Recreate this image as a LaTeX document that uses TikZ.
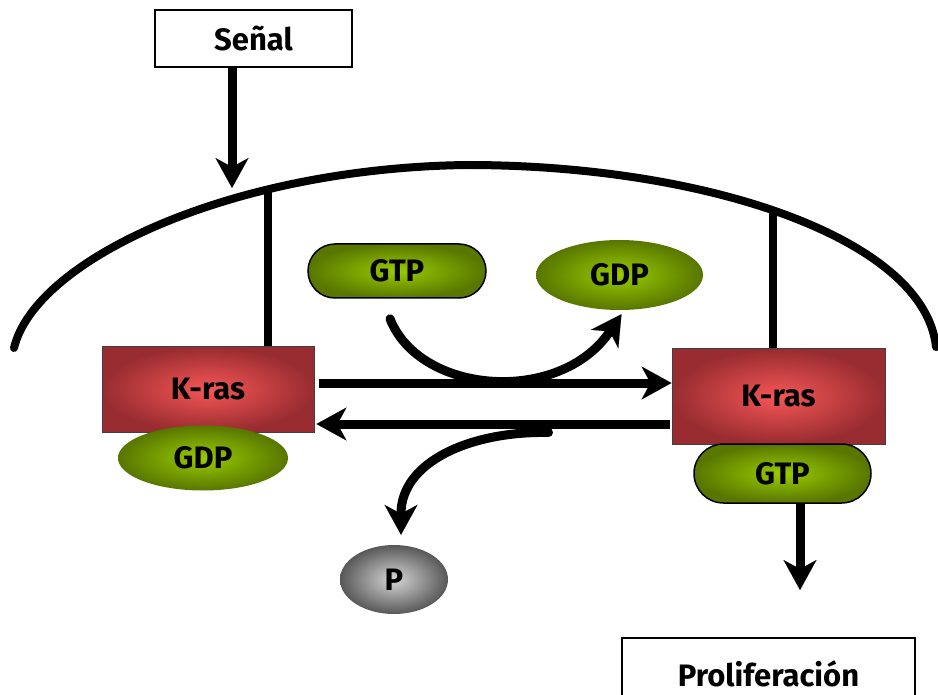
\documentclass[tikz,border=0pt]{standalone}
\usepackage{fontspec}
\setmainfont{Fira Sans}
\usetikzlibrary{arrows.meta,shapes.geometric,shapes.misc}

\definecolor{krasin}{RGB}{246,86,86}
\definecolor{krasout}{RGB}{152,44,48}
\definecolor{nucin}{RGB}{152,204,0}
\definecolor{nucout}{RGB}{88,118,0}
\definecolor{phosin}{RGB}{214,214,214}
\definecolor{phosout}{RGB}{88,88,88}

\tikzset{
    bigtext/.style={font=\fontsize{31}{36}\selectfont\bfseries, inner sep=0pt},
    whitebox/.style={bigtext, draw, line width=2pt, fill=white},
    krasbox/.style={bigtext, draw=black!75, line width=1pt, inner color=krasin, outer color=krasout},
    gtppill/.style={bigtext, rounded rectangle, draw, line width=1.5pt, inner color=nucin, outer color=nucout},
    gdpblob/.style={bigtext, ellipse, inner color=nucin, outer color=nucout},
    pblob/.style={bigtext, ellipse, inner color=phosin, outer color=phosout},
    fat arrow/.style={line width=9pt, -{Stealth[length=30pt, width=33pt, inset=9pt, line width=0.1pt]}},
    stalk/.style={line width=8pt}
}

\begin{document}
\begin{tikzpicture}[x=1pt, y=-1pt]
    \useasboundingbox (0,0) rectangle (938,695);
    \clip (0,0) rectangle (938,695);

    % membrane
    \draw[line width=8pt, line cap=round] (14,348)
        .. controls (35,260) and (230,168) .. (467,165)
        .. controls (710,165) and (925,240) .. (936,347);
    \coordinate (memtop) at (232,188);
    \coordinate (anchorL) at (268,190);
    \coordinate (anchorR) at (773,212);

    % boxes
    \node[whitebox, minimum width=197pt, minimum height=57pt] (senal) at (253.5,38.5) {Señal};
    \node[whitebox, minimum width=293pt, minimum height=72pt] (prolif) at (768.5,674) {Proliferación};

    \node[krasbox, minimum width=212pt, minimum height=85pt] (krasL) at (208,389.5) {K-ras};
    \node[gdpblob, minimum width=170pt, minimum height=65pt] (gdpL) at (203,458) {GDP};
    \node[krasbox, minimum width=213pt, minimum height=95pt] (krasR) at (778.5,396.5) {K-ras};
    \node[gtppill, minimum width=177pt, minimum height=59pt] (gtpR) at (782.5,473.5) {GTP};

    \node[gtppill, minimum width=178pt, minimum height=54pt] (gtpT) at (397,271) {GTP};
    \node[gdpblob, minimum width=167pt, minimum height=70pt] (gdpT) at (619.5,275) {GDP};
    \node[pblob, minimum width=108pt, minimum height=69pt] (pnode) at (394,579.5) {P};
    \coordinate (prolifend) at (800,590);

    % connectors
    \draw[fat arrow] ([xshift=-21.5pt]senal.south) -- (memtop);
    \draw[stalk] ([xshift=60pt]krasL.north) -- (anchorL);
    \draw[stalk] ([xshift=-5.5pt]krasR.north) -- (anchorR);

    \draw[fat arrow] ([xshift=4pt,yshift=6.5pt]krasL.east) -- ([yshift=13.5pt]krasR.west);
    \draw[fat arrow] ([xshift=-2pt,yshift=-27.5pt]krasR.west) -- ([xshift=2pt,yshift=-34.5pt]krasL.east);

    \draw[fat arrow, line cap=round] ([xshift=-7pt,yshift=-20pt]gtpT.south)
        .. controls (420,395) and (560,405) .. ([xshift=2pt,yshift=-4pt]gdpT.south);
    \draw[fat arrow, line cap=round] ([xshift=-337pt,yshift=-36pt]krasR.east)
        .. controls (470,431) and (401,462) .. ([xshift=7pt,yshift=10pt]pnode.north);

    \draw[fat arrow] ([xshift=17.5pt]gtpR.south) -- (prolifend);
\end{tikzpicture}
\end{document}
